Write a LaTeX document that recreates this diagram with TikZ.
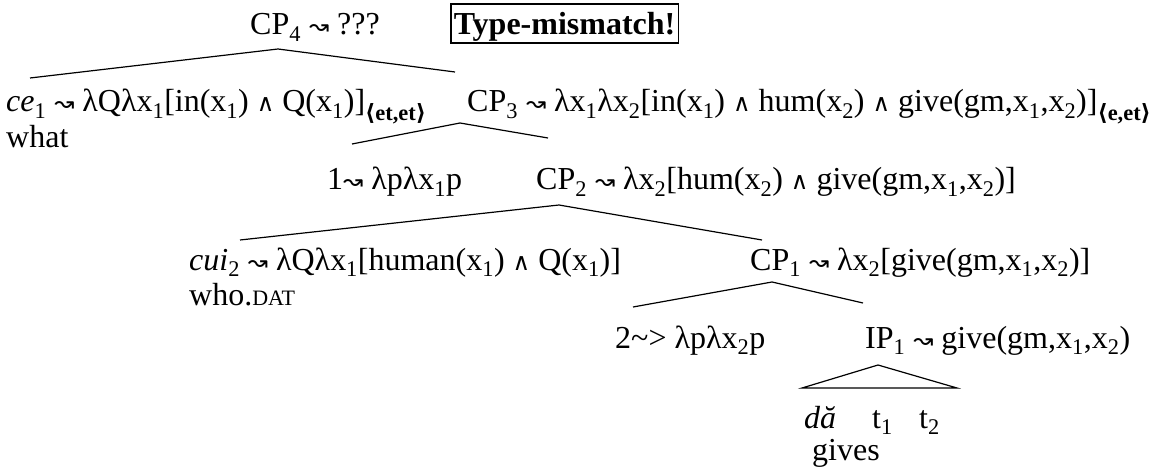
\documentclass[tikz,border=0pt]{standalone}
\usepackage{fontspec}
\setmainfont{Liberation Serif}
\newfontfamily\symfont{DejaVu Sans}
\newcommand\ix[1]{\textsubscript{#1}}
\newcommand\lto{{\symfont\fontsize{24}{24}\selectfont ↝}}
\newcommand\conj{{\symfont\fontsize{24}{24}\selectfont ∧}}
\newcommand\tp[1]{\textsubscript{\textbf{{\symfont ⟨}#1{\symfont ⟩}}}}
\begin{document}
\begin{tikzpicture}[x=1pt,y=-1pt,
    every node/.style={anchor=base west,inner sep=0pt,font=\fontsize{32}{36}\selectfont},
    branch/.style={line width=1.2pt},
    mismatchbox/.style={draw,line width=1.5pt,inner xsep=3pt,text height=31pt,text depth=8pt,font=\fontsize{32}{36}\selectfont\bfseries}]
  \useasboundingbox (0,0) rectangle (1153,470);
  % labels, row by row
  \node (cp4) at (250,35) {CP\ix{4} \lto{} ???};
  \node[mismatchbox] (mismatch) at (450,35) {Type-mismatch!};
  \node (ce) at (6,112) {\textit{ce}\ix{1} \lto{} λQλx\ix{1}[in(x\ix{1}) \conj{} Q(x\ix{1})]\tp{et,et}};
  \node (what) at (6,148) {what};
  \node (cp3) at (467,112) {CP\ix{3} \lto{} λx\ix{1}λx\ix{2}[in(x\ix{1}) \conj{} hum(x\ix{2}) \conj{} give(gm,x\ix{1},x\ix{2})]\tp{e,et}};
  \node (one) at (327,190) {1\lto{} λpλx\ix{1}p};
  \node (cp2) at (536,190) {CP\ix{2} \lto{} λx\ix{2}[hum(x\ix{2}) \conj{} give(gm,x\ix{1},x\ix{2})]};
  \node (cui) at (189,270) {\textit{cui}\ix{2} \lto{} λQλx\ix{1}[human(x\ix{1}) \conj{} Q(x\ix{1})]};
  \node (whodat) at (189,305) {who.{\fontsize{22}{22}\selectfont DAT}};
  \node (cp1) at (750,270) {CP\ix{1} \lto{} λx\ix{2}[give(gm,x\ix{1},x\ix{2})]};
  \node (two) at (615,348) {2\textasciitilde> λpλx\ix{2}p};
  \node (ip1) at (865,348) {IP\ix{1} \lto{} give(gm,x\ix{1},x\ix{2})};
  \node (da) at (804,428) {\textit{dă}};
  \node (t1) at (872,428) {t\ix{1}};
  \node (t2) at (919,428) {t\ix{2}};
  \node (gives) at (812,460) {gives};
  % branch points
  \coordinate (cp4-b) at (278,49);
  \coordinate (ce-t) at (30,78);
  \coordinate (cp3-t) at (455,72);
  \coordinate (cp3-b) at (460,123);
  \coordinate (one-t) at (352,144);
  \coordinate (cp2-t) at (548,138);
  \coordinate (cp2-b) at (559,205);
  \coordinate (cui-t) at (240,240);
  \coordinate (cp1-t) at (762,240);
  \coordinate (cp1-b) at (772,282);
  \coordinate (two-t) at (633,307);
  \coordinate (ip1-t) at (863,303);
  \coordinate (ip1-b) at (878,365);
  \coordinate (da-t) at (802,388);
  \coordinate (t2-t) at (957,388);
  \draw[branch] (ce-t) -- (cp4-b) -- (cp3-t);
  \draw[branch] (one-t) -- (cp3-b) -- (cp2-t);
  \draw[branch] (cui-t) -- (cp2-b) -- (cp1-t);
  \draw[branch] (two-t) -- (cp1-b) -- (ip1-t);
  \draw[branch] (da-t) -- (ip1-b) -- (t2-t) -- cycle;
\end{tikzpicture}
\end{document}
